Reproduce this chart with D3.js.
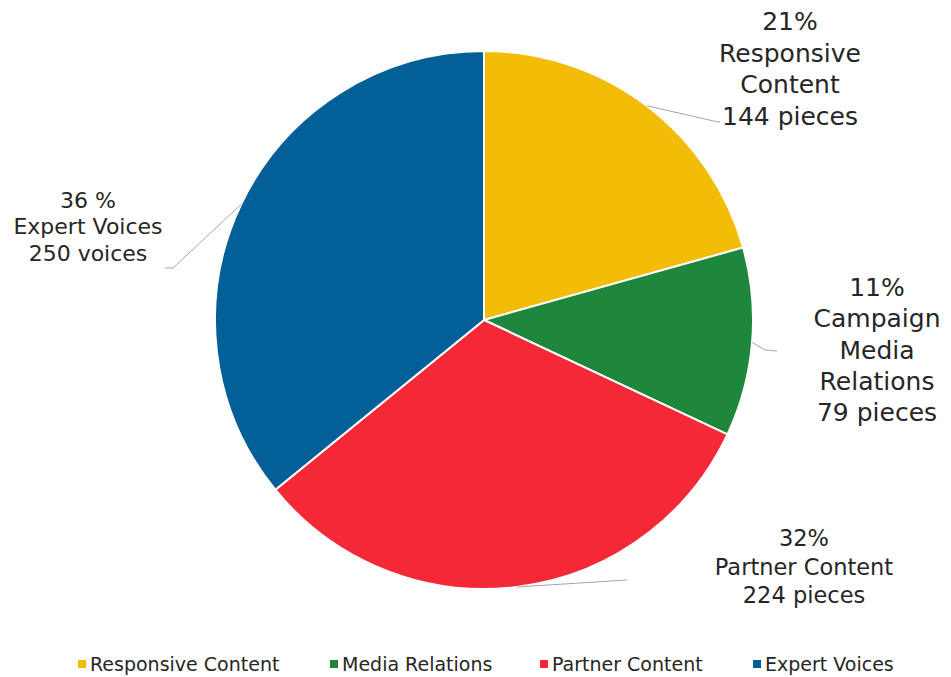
<!DOCTYPE html>
<html>
<head>
<meta charset="utf-8">
<script src="https://d3js.org/d3.v7.min.js"></script>
<style>
  body { margin: 0; background: #fff; }
  text { font-family: "DejaVu Sans", sans-serif; fill: #262626; }
</style>
</head>
<body>
<div id="chart"></div>
<script>
// data
var categories = ["Responsive Content", "Media Relations", "Partner Content", "Expert Voices"];
var values = [144, 79, 224, 250];
var percentText = ["21%", "11%", "32%", "36 %"];
var labelText = [
  ["Responsive", "Content", "144 pieces"],
  ["Campaign", "Media", "Relations", "79 pieces"],
  ["Partner Content", "224 pieces"],
  ["Expert Voices", "250 voices"]
];
var colors = ["#f3bc07", "#1e873c", "#f52837", "#025f98"];

var width = 951, height = 677,
    cx = 484, cy = 320, radius = 269;

// label layout: text centre, first line y, line height, font size, leader elbow + end
var labelLayout = [
  {x: 790, y: 21, lh: 31.5, fs: 25, elbow: [718, 122], end: [720, 122]},
  {x: 877, y: 287, lh: 31.3, fs: 25, elbow: [765, 350], end: [777, 351]},
  {x: 804, y: 538, lh: 28.5, fs: 22.5, elbow: [627, 580], end: [627, 580]},
  {x: 88, y: 200, lh: 26.5, fs: 22, elbow: [173, 268], end: [165, 268]}
];

var svg = d3.select("#chart").append("svg")
    .attr("width", width)
    .attr("height", height);

var g = svg.append("g").attr("transform", "translate(" + cx + "," + cy + ")");

var pie = d3.pie().sort(null).value(function(d) { return d; });
var arcs = pie(values);
var arc = d3.arc().innerRadius(0).outerRadius(radius);

g.selectAll("path.slice")
  .data(arcs)
  .enter().append("path")
    .attr("class", "slice")
    .attr("d", arc)
    .attr("fill", function(d, i) { return colors[i]; })
    .attr("stroke", "#fff")
    .attr("stroke-width", 2);

// leader lines
arcs.forEach(function(d, i) {
  var a = (d.startAngle + d.endAngle) / 2;
  var p0 = [cx + radius * Math.sin(a), cy - radius * Math.cos(a)];
  var L = labelLayout[i];
  svg.append("polyline")
    .attr("points", [p0, L.elbow, L.end].map(function(p) { return p.join(","); }).join(" "))
    .attr("fill", "none")
    .attr("stroke", "#a6a6a6")
    .attr("stroke-width", 1);
});

// labels
labelText.forEach(function(lines, i) {
  var L = labelLayout[i];
  var t = svg.append("text")
    .attr("text-anchor", "middle")
    .attr("font-size", L.fs + "px");
  [percentText[i]].concat(lines).forEach(function(s, j) {
    t.append("tspan")
      .attr("x", L.x)
      .attr("y", L.y + j * L.lh)
      .attr("dy", "0.36em")
      .text(s);
  });
});

// legend
var legendX = [78, 330, 540, 753];
var legend = svg.append("g");
categories.forEach(function(c, i) {
  legend.append("rect")
    .attr("x", legendX[i])
    .attr("y", 660)
    .attr("width", 8)
    .attr("height", 8)
    .attr("fill", colors[i]);
  legend.append("text")
    .attr("x", legendX[i] + 12)
    .attr("y", 664)
    .attr("dy", "0.36em")
    .attr("font-size", "19px")
    .text(c);
});
</script>
</body>
</html>
